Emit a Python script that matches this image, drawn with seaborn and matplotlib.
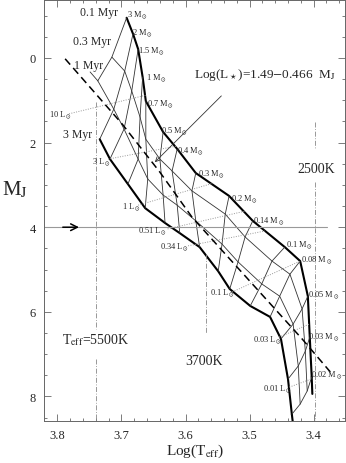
import matplotlib
matplotlib.use("Agg")

import numpy as np
import pandas as pd
import matplotlib.pyplot as plt
import seaborn as sns

# =========================
# DATA
# =========================
masses = [3, 2, 1.5, 1, 0.7, 0.5, 0.4, 0.3, 0.2, 0.14, 0.1, 0.08, 0.05, 0.03, 0.02]
mass_names = ["3", "2", "1.5", "1", "0.7", "0.5", "0.4", "0.3", "0.2", "0.14",
              "0.1", "0.08", "0.05", "0.03", "0.02"]

# isochrones, one point per mass (Log Teff, M_J)
logt_01 = [3.692, 3.682, 3.674, 3.667, 3.662, 3.635, 3.613, 3.584, 3.532, 3.495,
           3.445, 3.421, 3.409, 3.406, 3.403]
mj_01 = [-0.95, -0.57, -0.21, 0.45, 1.02, 1.75, 2.15, 2.72, 3.26, 3.85,
         4.47, 4.80, 5.63, 6.60, 7.54]
logt_03 = [3.715, 3.695, 3.684, 3.671, 3.662, 3.640, 3.621, 3.590, 3.538, 3.507,
           3.465, 3.437, 3.418, 3.413, 3.410]
mj_03 = [-0.02, 0.31, 0.78, 1.40, 1.92, 2.39, 2.67, 3.14, 3.69, 4.23,
         4.80, 5.11, 5.93, 6.93, 7.87]
logt_1 = [3.737, 3.712, 3.696, 3.674, 3.659, 3.635, 3.613, 3.584, 3.543, 3.518,
          3.481, 3.453, 3.432, 3.424, 3.421]
mj_1 = [0.54, 1.21, 1.68, 2.39, 2.86, 3.24, 3.48, 3.85, 4.40, 4.82,
        5.34, 5.63, 6.29, 7.28, 8.18]
logt_3 = [np.nan, 3.734, 3.718, 3.690, 3.663, 3.632, 3.609, 3.578, 3.549, 3.531,
          3.499, 3.468, 3.451, 3.440, 3.434]
mj_3 = [np.nan, 1.92, 2.39, 2.98, 3.55, 3.90, 4.14, 4.47, 5.04, 5.46,
        5.86, 6.12, 6.64, 7.59, 8.42]

# extra ends of the isochrones
hook_1myr_logt = [3.749, 3.737]
hook_1myr_mj = [0.33, 0.54]
tail_01_logt = [3.403, 3.402]
tail_01_mj = [7.54, 7.94]
tail_3_logt = [3.434, 3.431]
tail_3_mj = [8.42, 8.80]

age_names = ["0.1 Myr", "0.3 Myr", "1 Myr", "3 Myr"]
age_label_x = [3.765, 3.776, 3.774, 3.792]
age_label_y = [-1.09, -0.40, 0.17, 1.80]

mass_label_x = [3.692, 3.684, 3.674, 3.662, 3.660, 3.638, 3.613, 3.581, 3.529, 3.495,
                3.443, 3.420, 3.409, 3.409, 3.404]
mass_label_y = [-1.04, -0.62, -0.19, 0.45, 1.06, 1.70, 2.18, 2.72, 3.31, 3.83,
                4.40, 4.75, 5.58, 6.57, 7.47]

# iso-luminosity lines (dotted)
lum_names = ["10", "3", "1", "0.51", "0.34", "0.1", "0.03", "0.01"]
lum_label_x = [3.813, 3.746, 3.699, 3.674, 3.640, 3.562, 3.495, 3.479]
lum_label_y = [1.32, 2.44, 3.50, 4.07, 4.44, 5.53, 6.64, 7.80]
lum_x0 = [3.782, 3.721, 3.674, 3.628, 3.596, 3.527, 3.454, 3.438]
lum_y0 = [1.32, 2.39, 3.48, 4.04, 4.44, 5.53, 6.60, 7.78]
lum_x1 = [3.662, 3.613, 3.557, 3.507, 3.476, 3.421, 3.407, 3.404]
lum_y1 = [0.88, 2.08, 2.96, 3.62, 4.09, 4.80, 6.29, 7.59]

# dashed relation line
dash_logt = [3.788, 3.699, 3.640, 3.590, 3.531, 3.418, 3.374]
dash_mj = [0.02, 1.56, 2.70, 3.76, 4.75, 6.64, 7.42]

# reference temperatures (Log Teff) and their visible pieces
ref_logt = [3.740, 3.568, 3.398]
ref_segments = [[(1.04, 6.41), (7.12, 8.70)],
                [(4.63, 6.52)],
                [(1.51, 2.15), (2.93, 8.70)]]

mj_cut = 4.0

# =========================
# STYLE
# =========================
sns.set_style("ticks")
plt.rcParams["font.family"] = ["Liberation Serif", "DejaVu Serif"]
plt.rcParams["mathtext.fontset"] = "stix"

fig = plt.figure(figsize=(3.46, 4.64), dpi=100)
ax = fig.add_axes([44 / 346, 42 / 464, 301 / 346, 421 / 464])

thin = dict(color="#333333", lw=0.6)
thick = dict(color="black", lw=1.5)

# -------- isochrones
iso_logt = [logt_01, logt_03, logt_1, logt_3]
iso_mj = [mj_01, mj_03, mj_1, mj_3]
for k in range(4):
    style = thick if k in (0, 3) else thin
    sns.lineplot(x=iso_logt[k], y=iso_mj[k], sort=False, estimator=None, ax=ax, **style)
sns.lineplot(x=hook_1myr_logt, y=hook_1myr_mj, sort=False, estimator=None, ax=ax, **thin)
sns.lineplot(x=tail_01_logt, y=tail_01_mj, sort=False, estimator=None, ax=ax, **thick)
sns.lineplot(x=tail_3_logt, y=tail_3_mj, sort=False, estimator=None, ax=ax, **thick)

# -------- mass tracks
for i in range(len(masses)):
    tx = np.array([logt_01[i], logt_03[i], logt_1[i], logt_3[i]])
    ty = np.array([mj_01[i], mj_03[i], mj_1[i], mj_3[i]])
    ok = ~np.isnan(tx)
    sns.lineplot(x=tx[ok], y=ty[ok], sort=False, estimator=None, ax=ax, **thin)
    ax.text(mass_label_x[i], mass_label_y[i], f"{mass_names[i]} M$_\\odot$",
            fontsize=6, ha="left", va="center")

for k in range(4):
    ax.text(age_label_x[k], age_label_y[k], age_names[k], fontsize=8.5,
            ha="left", va="center")

# -------- iso-luminosity
for j in range(len(lum_names)):
    ax.plot([lum_x0[j], lum_x1[j]], [lum_y0[j], lum_y1[j]], color="#999999",
            lw=0.7, ls=(0, (1, 1.5)))
    ax.text(lum_label_x[j], lum_label_y[j], f"{lum_names[j]} L$_\\odot$",
            fontsize=6, ha="left", va="center")

# -------- dashed relation
sns.lineplot(x=dash_logt, y=dash_mj, sort=False, estimator=None, ax=ax,
             color="black", lw=1.1, linestyle=(0, (5, 3)))

# -------- reference lines
for t, segs in zip(ref_logt, ref_segments):
    for y0, y1 in segs:
        ax.plot([t, t], [y0, y1], color="#888888", lw=0.6, ls=(0, (6, 2, 1, 2)))

ax.plot([3.821, 3.379], [mj_cut, mj_cut], color="#999999", lw=0.8)
ax.annotate("", xy=(3.762, mj_cut), xytext=(3.796, mj_cut),
            arrowprops=dict(arrowstyle="->", color="black", lw=1.1,
                            mutation_scale=12))
ax.annotate("", xy=(3.651, 2.51), xytext=(3.541, 0.85),
            arrowprops=dict(arrowstyle="->", color="#333333", lw=0.6,
                            mutation_scale=8))

# -------- texts
ax.text(3.587, 0.38, r"Log(L$_\star$)=1.49$-$0.466  M$_{\rm J}$", fontsize=9.5,
        ha="left", va="center")
ax.text(3.426, 2.62, "2500K", fontsize=10, ha="left", va="center")
ax.text(3.601, 7.16, "3700K", fontsize=10, ha="left", va="center")
ax.text(3.793, 6.64, r"T$_{\rm eff}$=5500K", fontsize=10, ha="left", va="center")

# =========================
# AXES
# =========================
ax.set_xlim(3.821, 3.351)
ax.set_ylim(8.58, -1.37)
ax.set_xticks([3.8, 3.7, 3.6, 3.5, 3.4])
ax.set_xticklabels(["3.8", "3.7", "3.6", "3.5", "3.4"])
ax.set_yticks([0, 2, 4, 6, 8])
ax.set_xticks(np.arange(3.36, 3.82, 0.02), minor=True)
ax.set_yticks(np.arange(-1.0, 8.6, 0.5), minor=True)
ax.tick_params(which="both", direction="in", top=True, right=True,
               color="#666666", width=0.6, labelsize=9, pad=6)
ax.tick_params(which="major", length=5)
ax.tick_params(which="minor", length=2.5)
for s in ax.spines.values():
    s.set_color("#666666")
    s.set_linewidth(0.7)
ax.set_xlabel("")
ax.set_ylabel("")

fig.text(0.006, 0.59, r"M$_{\rm J}$", fontsize=15, ha="left", va="center")
fig.text(0.564, 0.028, r"Log(T$_{\rm eff}$)", fontsize=11, ha="center", va="center")

fig.savefig("out.png", dpi=100)
plt.close(fig)
